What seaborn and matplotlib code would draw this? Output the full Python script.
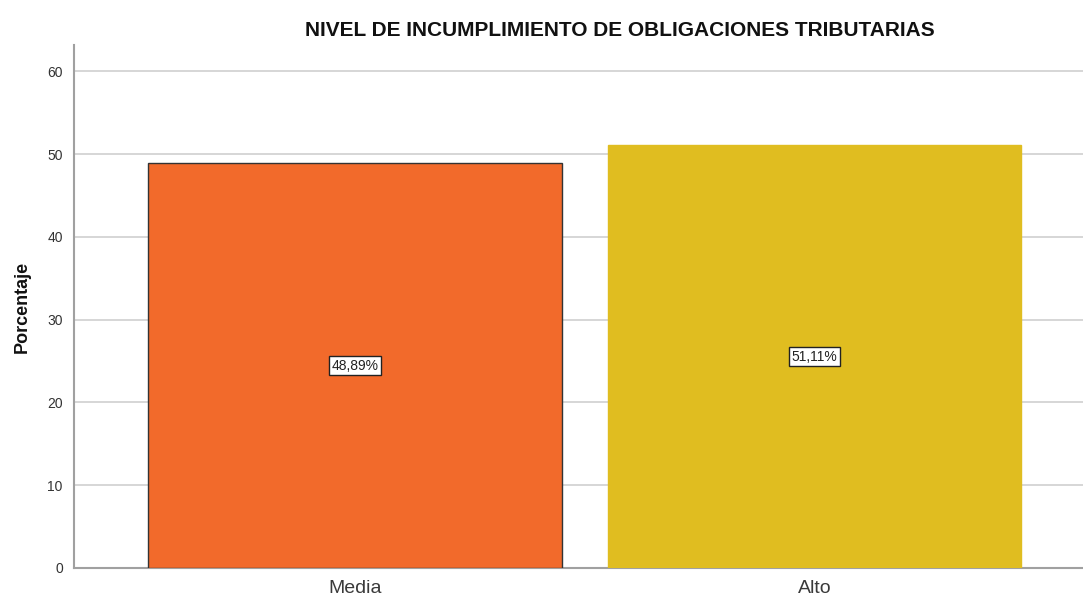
import matplotlib
matplotlib.use("Agg")
import matplotlib.pyplot as plt
import seaborn as sns
import pandas as pd

# data
categories = ['Media', 'Alto']
percentages = [48.89, 51.11]
bar_colors = ['#F26A2B', '#E0BD20']
y_ticks = [0, 10, 20, 30, 40, 50, 60]

sns.set_style("white")
plt.rcParams['font.family'] = ['Liberation Sans', 'DejaVu Sans']

df = pd.DataFrame({'Nivel': categories, 'Porcentaje': percentages})

fig = plt.figure(figsize=(10.83, 5.96), dpi=100)
ax = fig.add_axes([0.0683, 0.047, 0.9317, 0.8775])

sns.barplot(data=df, x='Nivel', y='Porcentaje', hue='Nivel', palette=bar_colors,
            saturation=1, width=0.9, legend=False, ax=ax, zorder=3)

# edge only on the first bar, like the reference
edges = ['#333333', '#E0BD20']
for patch, ec in zip(ax.patches, edges):
    patch.set_edgecolor(ec)
    patch.set_linewidth(1.0)

# value labels in white boxes at half height
for i, v in enumerate(percentages):
    ax.text(i, v / 2, f'{v:.2f}%'.replace('.', ','), ha='center', va='center',
            fontsize=10, color='#222222', zorder=5,
            bbox=dict(boxstyle='square,pad=0.2', facecolor='white',
                      edgecolor='#222222', linewidth=1))

ax.set_ylim(0, 63.2)
ax.set_xlim(-0.612, 1.585)
ax.set_yticks(y_ticks)
ax.yaxis.grid(True, color='#CFCFCF', linewidth=1.2, zorder=0)
ax.set_axisbelow(True)
ax.tick_params(axis='y', length=0, pad=8, labelsize=10, labelcolor='#333333')
ax.tick_params(axis='x', length=0, pad=9, labelsize=14, labelcolor='#3a3a3a')

for s in ['top', 'right']:
    ax.spines[s].set_visible(False)
for s in ['left', 'bottom']:
    ax.spines[s].set_color('#A0A0A0')
    ax.spines[s].set_linewidth(1.5)

ax.set_xlabel('')
ax.set_ylabel('Porcentaje', fontsize=13, fontweight='bold', color='#111111', labelpad=12)

fig.text(0.572, 0.948, 'NIVEL DE INCUMPLIMIENTO DE OBLIGACIONES TRIBUTARIAS',
         ha='center', va='center', fontsize=15, fontweight='bold', color='#111111')

fig.savefig('out.png', dpi=100)
